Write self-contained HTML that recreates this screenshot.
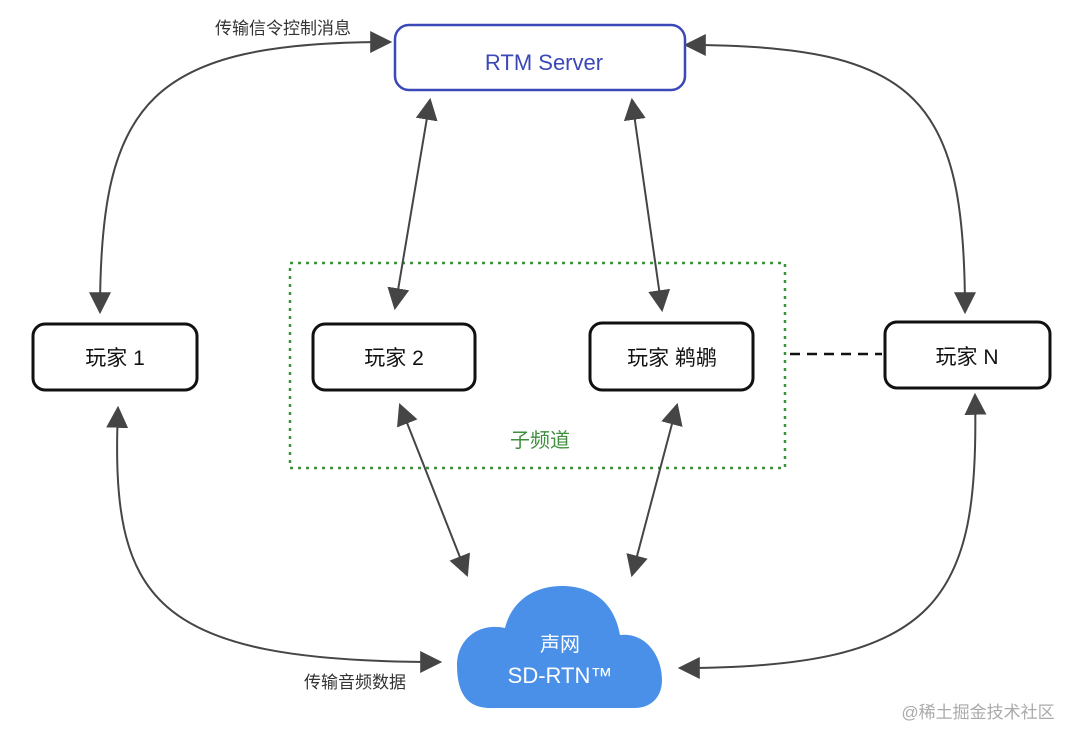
<!DOCTYPE html>
<html><head><meta charset="utf-8"><style>
html,body{margin:0;padding:0;background:#fff;}
svg{display:block;}
text{font-family:"Liberation Sans","Noto Sans CJK SC",sans-serif;}
</style></head><body>
<svg width="1080" height="744" viewBox="0 0 1080 744" xmlns="http://www.w3.org/2000/svg">
<defs>
<marker id="h" viewBox="0 0 10 10" refX="9" refY="5" markerWidth="11" markerHeight="11" orient="auto-start-reverse">
<path d="M0,0 L10,5 L0,10 z" fill="#454545"/>
</marker>
</defs>
<rect width="1080" height="744" fill="#fff"/>
<rect x="290" y="263" width="495" height="205" fill="none" stroke="#3f8f3f" stroke-width="2.5" stroke-dasharray="3,5"/>
<text x="540" y="447" font-size="20" fill="#3f8f3f" text-anchor="middle">子频道</text>
<g fill="none" stroke="#454545" stroke-width="2" marker-start="url(#h)" marker-end="url(#h)">
<path d="M100,312 C100,100 150,42 390,42"/>
<path d="M686,45 C920,45 965,100 965,312"/>
<path d="M430,100 L395,308"/>
<path d="M632,100 L662,310"/>
<path d="M400,405 L467,575"/>
<path d="M677,405 L632,575"/>
<path d="M118,408 C110,600 150,662 440,662"/>
<path d="M975,395 C980,600 940,668 680,668"/>
</g>
<line x1="790" y1="354" x2="882" y2="354" stroke="#111" stroke-width="2.5" stroke-dasharray="10,7"/>
<rect x="395" y="25" width="290" height="65" rx="14" fill="#fff" stroke="#3a48b8" stroke-width="2.5"/>
<text x="544" y="70" font-size="22" fill="#3a48b8" text-anchor="middle">RTM Server</text>
<text x="283" y="34" font-size="17" fill="#333" text-anchor="middle">传输信令控制消息</text>
<g fill="#fff" stroke="#111" stroke-width="3">
<rect x="33" y="324" width="164" height="66" rx="12"/>
<rect x="313" y="324" width="162" height="66" rx="12"/>
<rect x="590" y="323" width="163" height="67" rx="12"/>
<rect x="885" y="322" width="165" height="66" rx="12"/>
</g>
<g font-size="21" fill="#111" text-anchor="middle">
<text x="115" y="365">玩家 1</text>
<text x="394" y="365">玩家 2</text>
<text x="672" y="365">玩家 鹈鹕</text>
<text x="967" y="364">玩家 N</text>
</g>
<path d="M490,708 C465,708 457,690 457,665 C457,640 478,622 505,628 C512,600 535,586 562,586 C595,586 615,605 620,635 C645,632 662,655 662,680 C662,698 650,708 635,708 Z" fill="#4a90e8"/>
<text x="560" y="651" font-size="20" fill="#fff" text-anchor="middle">声网</text>
<text x="560" y="683" font-size="22" fill="#fff" text-anchor="middle">SD-RTN™</text>
<text x="355" y="688" font-size="17" fill="#333" text-anchor="middle">传输音频数据</text>
<text x="978" y="718" font-size="17" fill="#aaa" text-anchor="middle">@稀土掘金技术社区</text>
</svg>
</body></html>
